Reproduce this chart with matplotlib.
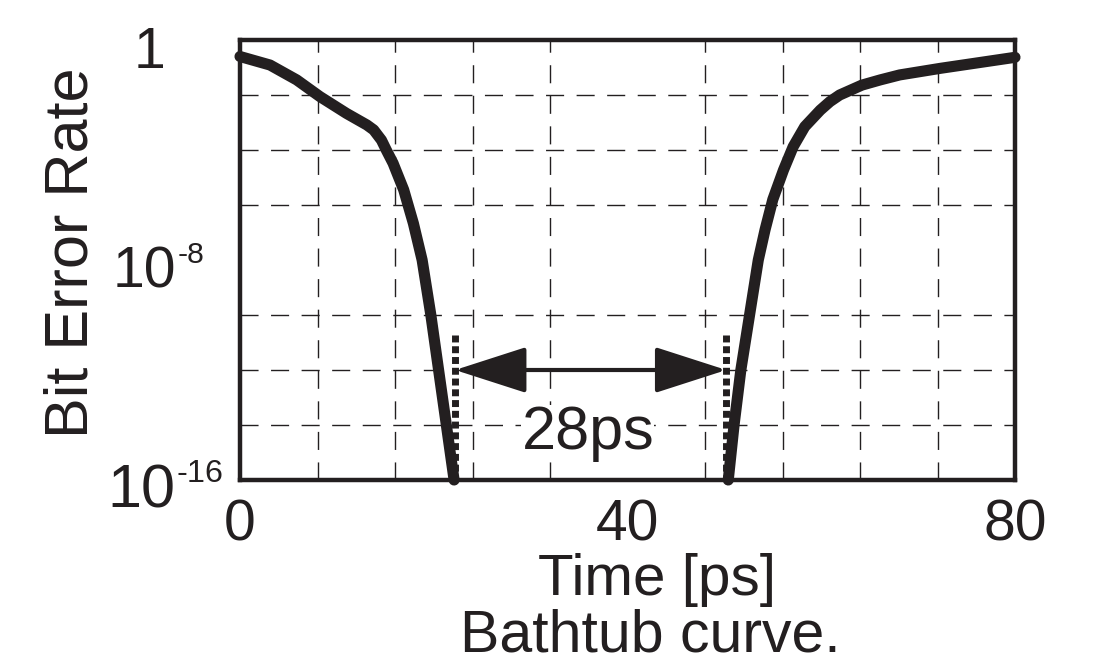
import numpy as np
import matplotlib.pyplot as plt
from matplotlib.ticker import FixedLocator, NullFormatter
from matplotlib.transforms import offset_copy

plt.rcParams["font.family"] = ["Liberation Sans", "DejaVu Sans"]

# left wall of the bathtub: time [ps] vs log10(BER)
left_t = [0, 3.1, 5.85, 8.26, 11.0, 13.1, 13.8, 14.6, 15.1, 15.8, 16.9, 17.9, 18.8, 19.7, 20.5, 21.3, 22.1]
left_logber = [-0.6, -0.91, -1.45, -2.06, -2.67, -3.09, -3.27, -3.64, -4.0, -4.48, -5.45, -6.67,
               -8.0, -10.0, -12.0, -14.0, -16.0]

# right wall
right_t = [50.4, 51.0, 51.7, 52.6, 53.5, 54.2, 55.0, 56.1, 57.1, 58.3, 59.9, 60.9, 61.9, 64.2, 66.1, 68.1, 72.3, 80.0]
right_logber = [-16.0, -14.0, -12.0, -10.0, -8.0, -6.9, -5.8, -4.73, -3.88, -3.15, -2.55, -2.24, -2.0,
                -1.64, -1.45, -1.27, -1.03, -0.63]

# eye opening at BER = 1e-12
eye_left = 22.2
eye_width = 28
eye_right = eye_left + eye_width
eye_level = 1e-12
marker_top = 10 ** -10.73

x_ticks = [0, 40, 80]
x_grid = list(range(8, 80, 8))
y_grid = [10.0 ** k for k in range(-14, 0, 2)]
# (value, base, exponent, x of label in pixels from axes left, fontsize)
y_ticks = [(1.0, "1", "", -106, 41), (1e-8, "10", "-8", -127, 41), (1e-16, "10", "-16", -133, 44)]

FS = 44
INK = "#231f20"

fig = plt.figure(figsize=(11, 6.64), dpi=100)
ax = fig.add_axes([240 / 1100, 1 - 480 / 664, 775 / 1100, 440 / 664])

ax.set_yscale("log")
ax.set_xlim(0, 80)
ax.set_ylim(1e-16, 1)

for t, lb in ((left_t, left_logber), (right_t, right_logber)):
    ax.plot(t, 10.0 ** np.array(lb), color=INK, lw=8,
            solid_capstyle="round", solid_joinstyle="round", clip_on=False, zorder=4)

# dotted eye edges
for xe in (eye_left, eye_right):
    ax.plot([xe, xe], [marker_top, 1e-16], color=INK, lw=5,
            linestyle=(0, (1.0, 0.55)), zorder=3)

ax.annotate("", xy=(eye_right, eye_level), xytext=(eye_left, eye_level),
            arrowprops=dict(arrowstyle="<|-|>,head_length=4.5,head_width=1.45",
                            mutation_scale=10, color=INK, lw=3,
                            shrinkA=0, shrinkB=0), zorder=5)
ax.text((eye_left + eye_right) / 2 - 0.3, 10 ** -14.3, f"{eye_width}ps",
        fontsize=FS, ha="center", va="center", color=INK,
        bbox=dict(fc="white", ec="none", pad=0), zorder=2)

# grid
ax.xaxis.set_minor_locator(FixedLocator(x_grid))
ax.yaxis.set_minor_locator(FixedLocator(y_grid))
ax.yaxis.set_minor_formatter(NullFormatter())
ax.grid(which="minor", color=INK, lw=1.0, linestyle=(0, (13, 9)))
ax.set_axisbelow(True)

ax.set_xticks(x_ticks)
ax.set_xticklabels([str(v) for v in x_ticks], fontsize=41, color=INK)
ax.set_yticks([t[0] for t in y_ticks])
ax.set_yticklabels([])
ax.tick_params(which="both", length=0)
ax.tick_params(axis="x", pad=13)

for s in ax.spines.values():
    s.set_linewidth(3.2)
    s.set_color(INK)

# y tick labels, exponent written with a short hyphen
for val, base, sup, xpx, fs in y_ticks:
    trans = offset_copy(ax.get_yaxis_transform(), fig=fig, x=xpx, y=-28, units="dots")
    base_t = ax.text(0, val, base, fontsize=fs, ha="left", va="baseline",
                     transform=trans, color=INK, clip_on=False)
    if sup:
        ax.annotate(sup, xy=(1, 1), xycoords=base_t, xytext=(1, 5),
                    textcoords="offset pixels", fontsize=fs * 0.53, ha="left",
                    va="top", color=INK, annotation_clip=False)

fig.text(72 / 1100, 1 - 253 / 664, "Bit Error Rate", fontsize=FS, rotation=90,
         ha="center", va="center", color=INK)
fig.text(657 / 1100, 1 - 595 / 664, "Time [ps]", fontsize=42, ha="center",
         va="baseline", color=INK)
fig.text(650 / 1100, 1 - 651 / 664, "Bathtub curve.", fontsize=42.5, ha="center",
         va="baseline", color=INK)

fig.savefig("out.png", dpi=100)
